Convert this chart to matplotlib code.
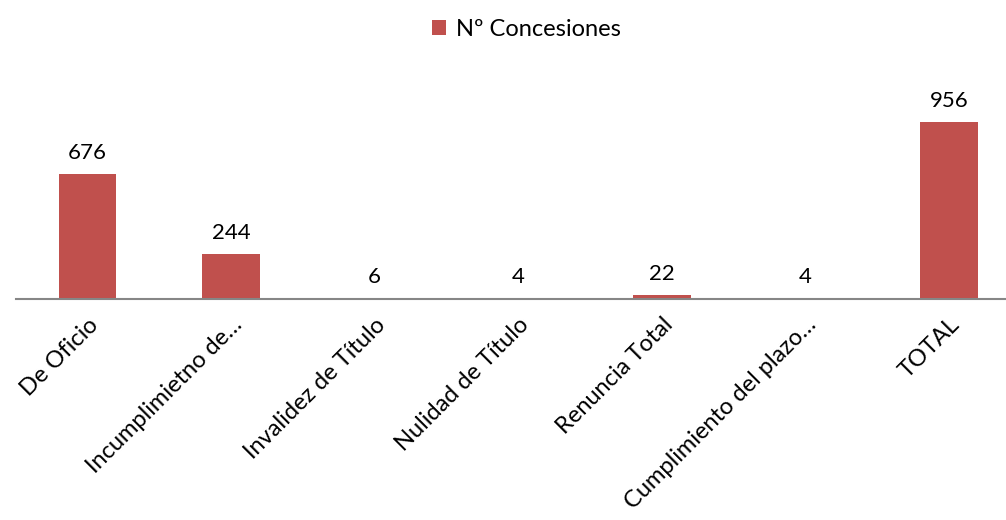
import matplotlib as mpl
import matplotlib.pyplot as plt
import numpy as np

mpl.rcParams["font.family"] = ["Lato", "DejaVu Sans"]

categorias = ["De Oficio", "Incumplimietno de…", "Invalidez de Título",
              "Nulidad de Título", "Renuncia Total", "Cumplimiento del plazo…", "TOTAL"]
concesiones = [676, 244, 6, 4, 22, 4, 956]
color_barra = "#C0504D"

fig = plt.figure(figsize=(10.06, 5.2), dpi=100)
ax = fig.add_axes([15.7/1006, 221/520, 1005.3/1006, 222/520])

x = np.arange(len(categorias))
bars = ax.bar(x, concesiones, width=0.4, color=color_barra, label="Nº Concesiones")
ax.set_xlim(-0.5, len(categorias) - 0.5)
ax.set_ylim(0, 1200)

for xi, v in zip(x, concesiones):
    ax.annotate(str(v), (xi, v), xytext=(0, 8), textcoords="offset points",
                ha="center", va="bottom", fontsize=16, color="#000000")

for s in ["top", "right", "left"]:
    ax.spines[s].set_visible(False)
ax.spines["bottom"].set_color("#868686")
ax.spines["bottom"].set_linewidth(1.5)
ax.set_yticks([])
ax.set_xticks(x)
ax.set_xticklabels(categorias, rotation=45, ha="right", va="top",
                   rotation_mode="anchor", fontsize=17)
ax.tick_params(axis="x", length=0, pad=11)

fig.legend(handles=[bars], labels=["Nº Concesiones"], loc="upper center",
           bbox_to_anchor=(0.523, 1.005), frameon=False, fontsize=17,
           handlelength=0.6, handleheight=0.6, handletextpad=0.4)

fig.savefig("out.png", dpi=100)
